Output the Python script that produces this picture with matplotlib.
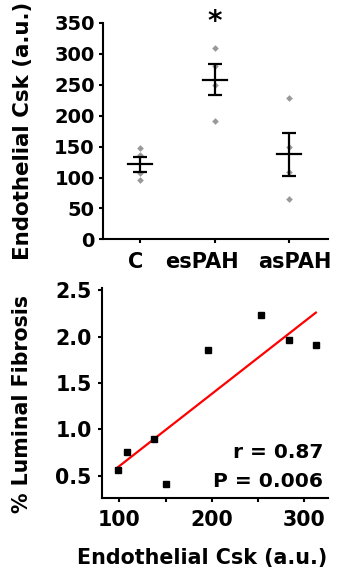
import numpy as np
import matplotlib
matplotlib.use("Agg")
import matplotlib.pyplot as plt
import matplotlib.transforms as mtransforms

plt.rcParams['font.family'] = ['DejaVu Sans']
plt.rcParams['font.weight'] = 'bold'

# top panel: endothelial Csk per group
groups = ["C", "esPAH", "asPAH"]
csk_c = [148, 136, 107, 96]
csk_es = [309, 281, 249, 192]
csk_as = [228, 149, 109, 65]
csk_all = [csk_c, csk_es, csk_as]

# bottom panel: correlation
csk_x = [98.9, 108.3, 137.1, 150.1, 195.5, 252.8, 283.1, 312.6]
fibrosis_y = [0.56, 0.76, 0.90, 0.41, 1.86, 2.23, 1.96, 1.91]
r_text = "r = 0.87"
p_text = "P = 0.006"

fig = plt.figure(figsize=(3.37, 5.70), dpi=100)

# ---- top panel
ax1 = fig.add_axes([0.305, 0.580, 0.668, 0.380])
for i, vals in enumerate(csk_all):
    vals = np.array(vals, dtype=float)
    m = vals.mean()
    sem = vals.std(ddof=1) / np.sqrt(len(vals))
    ax1.plot([i] * len(vals), vals, 'D', color='#999999', markersize=3.4,
             markeredgewidth=0, zorder=2)
    ax1.plot([i - 0.16, i + 0.16], [m, m], color='black', lw=1.6, zorder=3)
    ax1.errorbar(i, m, yerr=sem, fmt='none', ecolor='black', elinewidth=1.6,
                 capsize=5, capthick=1.6, zorder=3)

ax1.set_xlim(-0.5, 2.52)
ax1.set_ylim(0, 350)
ax1.set_yticks(np.arange(0, 351, 50))
ax1.set_xticks(range(len(groups)))
ax1.set_xticklabels(groups, fontsize=15, fontweight='bold')
ax1.tick_params(axis='y', labelsize=14, length=3, width=1.5, pad=2.7)
ax1.tick_params(axis='x', length=3, width=1.5, pad=6)
# labels in the original sit a little off their ticks
for lab, dx in zip(ax1.get_xticklabels(), [-4, -13, 6]):
    lab.set_transform(lab.get_transform() +
                      mtransforms.ScaledTranslation(dx / 100, 0, fig.dpi_scale_trans))
ax1.set_ylabel("Endothelial Csk (a.u.)", fontsize=15.4, fontweight='bold')
ax1.yaxis.set_label_coords(-0.308, 0.5)
ax1.text(1, 351, "*", ha='center', va='center', fontsize=20,
         fontweight='bold', clip_on=False)

# ---- bottom panel
ax2 = fig.add_axes([0.302, 0.126, 0.672, 0.368])
ax2.plot(csk_x, fibrosis_y, 's', color='black', markersize=4, zorder=3)
slope, icpt = np.polyfit(csk_x, fibrosis_y, 1)
xx = np.array([min(csk_x), max(csk_x)])
ax2.plot(xx, slope * xx + icpt, color='red', lw=1.6, zorder=2)

ax2.set_xlim(81, 326)
ax2.set_ylim(0.26, 2.52)
ax2.set_xticks(np.arange(100, 301, 50))
ax2.set_xticklabels(["100", "", "200", "", "300"])
ax2.set_yticks([0.5, 1.0, 1.5, 2.0, 2.5])
ax2.set_yticklabels(["0.5", "1.0", "1.5", "2.0", "2.5"])
ax2.tick_params(axis='both', labelsize=14.8, length=3, width=1.5)
ax2.tick_params(axis='y', pad=4.3)
ax2.tick_params(axis='x', pad=5.5)
ax2.set_xlabel("Endothelial Csk (a.u.)", fontsize=14.9, fontweight='bold')
ax2.xaxis.set_label_coords(0.445, -0.237)
ax2.set_ylabel("% Luminal Fibrosis", fontsize=14.8, fontweight='bold')
ax2.yaxis.set_label_coords(-0.309, 0.45)
ax2.text(0.977, 0.216, r_text, transform=ax2.transAxes, ha='right',
         va='center', fontsize=14.5, fontweight='bold')
ax2.text(0.977, 0.079, p_text, transform=ax2.transAxes, ha='right',
         va='center', fontsize=14.6, fontweight='bold')

for ax in (ax1, ax2):
    ax.spines['top'].set_visible(False)
    ax.spines['right'].set_visible(False)
    ax.spines['left'].set_linewidth(1.5)
    ax.spines['bottom'].set_linewidth(1.5)

fig.savefig("out.png", dpi=100)
